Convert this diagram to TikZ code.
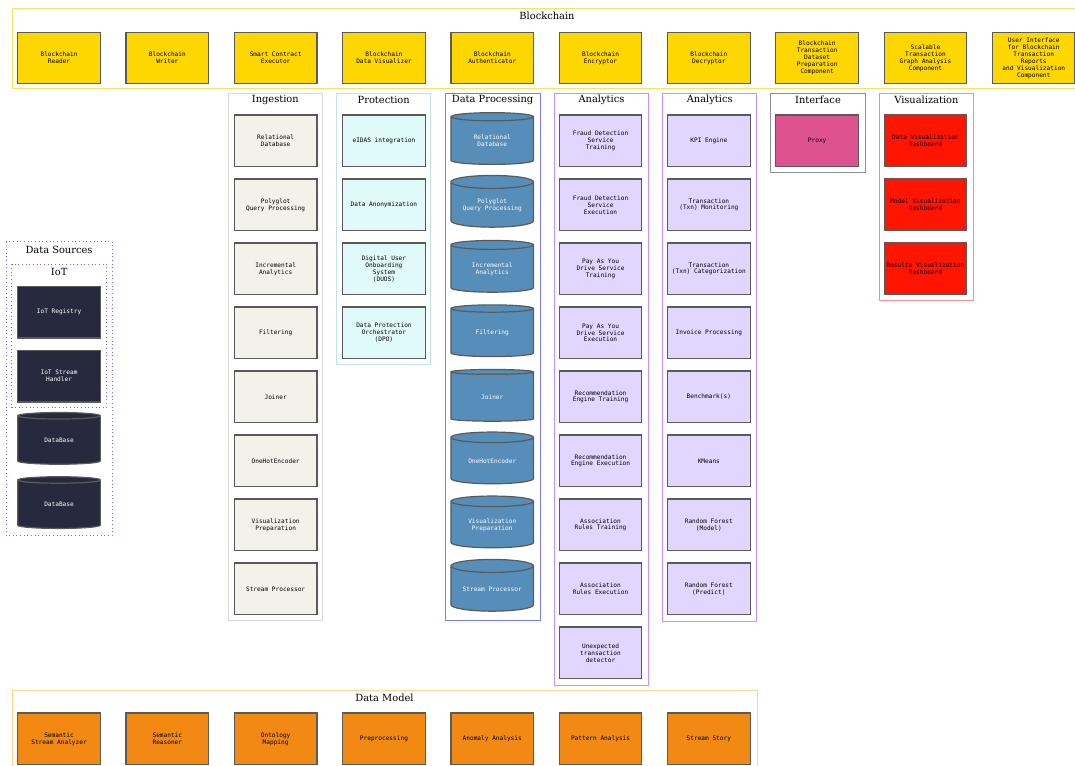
\documentclass[tikz,border=0pt]{standalone}
\usepackage{fontspec}
\setmainfont{DejaVu Serif}
\newfontfamily\boxfont{DejaVu Sans Mono}
\usetikzlibrary{shapes.geometric}
\definecolor{cgold}{HTML}{FFD700}
\definecolor{cing}{HTML}{F2F1EA}
\definecolor{cprot}{HTML}{E0FAFA}
\definecolor{cdp}{HTML}{568EB9}
\definecolor{cana}{HTML}{E0D6FF}
\definecolor{cproxy}{HTML}{DE5290}
\definecolor{cred}{HTML}{FF1500}
\definecolor{cnavy}{HTML}{272A3F}
\definecolor{corange}{HTML}{F28913}
\definecolor{fgold}{HTML}{FFE066}
\definecolor{fing}{HTML}{D9D9D9}
\definecolor{fprot}{HTML}{BFE3EE}
\definecolor{fdp}{HTML}{7B7BFF}
\definecolor{fana}{HTML}{D08BFF}
\definecolor{fint}{HTML}{8C8C8C}
\definecolor{fvis}{HTML}{FF8C8C}
\definecolor{fds}{HTML}{6B6BFF}
\definecolor{fdm}{HTML}{FFD68F}
\definecolor{bord}{HTML}{5A5A5A}
\tikzset{
  comp/.style={rectangle, draw=bord, line width=0.9pt, minimum width=62pt, minimum height=38.8pt,
    inner sep=0pt, align=center, font=\boxfont\fontsize{4.6}{5.2}\selectfont},
  cyl/.style={cylinder, shape border rotate=90, aspect=0.22, draw=bord, line width=0.9pt,
    minimum width=62pt, minimum height=38.8pt, inner sep=0pt, align=center,
    font=\boxfont\fontsize{4.6}{5.2}\selectfont},
  gold/.style={comp, fill=cgold},
  ing/.style={comp, fill=cing},
  prot/.style={comp, fill=cprot},
  dp/.style={cyl, fill=cdp, text=white},
  ana/.style={comp, fill=cana},
  proxy/.style={comp, fill=cproxy},
  redbox/.style={comp, fill=cred},
  navy/.style={comp, fill=cnavy, text=white},
  navycyl/.style={cyl, fill=cnavy, text=white},
  orange/.style={comp, fill=corange},
  frame/.style={line width=0.75pt},
  ftitle/.style={font=\fontsize{7.4}{8}\selectfont, inner sep=0pt}
}
\begin{document}
\begin{tikzpicture}[x=0.75pt,y=-0.75pt]
\useasboundingbox (0,0) rectangle (1075,765);
% frames
\draw[frame, draw=fgold] (12.4,8.6) rectangle (1082,88.5);
\node[ftitle] (tbc) at (547,16.2) {Blockchain};
\draw[frame, draw=fing] (228.3,93.3) rectangle (322.3,620);
\node[ftitle] (ting) at (275.3,100.3) {Ingestion};
\draw[frame, draw=fprot] (336.7,93.3) rectangle (430.7,364);
\node[ftitle] (tprot) at (383.7,100.3) {Protection};
\draw[frame, draw=fdp] (445,93.3) rectangle (540.3,620);
\node[ftitle] (tdp) at (492.6,100.3) {Data Processing};
\draw[frame, draw=fana] (554.5,93.3) rectangle (648.5,685);
\node[ftitle] (ta1) at (601.5,100.3) {Analytics};
\draw[frame, draw=fana] (662.7,93.3) rectangle (756.8,621);
\node[ftitle] (ta2) at (709.7,100.3) {Analytics};
\draw[frame, draw=fint] (770.9,93.3) rectangle (865.1,172.3);
\node[ftitle] (tint) at (818,100.3) {Interface};
\draw[frame, draw=fvis] (879.3,93.3) rectangle (973.5,300.3);
\node[ftitle] (tvis) at (926.4,100.3) {Visualization};
\draw[frame, draw=fds, dotted] (6,241.7) rectangle (112,535.7);
\node[ftitle] (tds) at (59,250) {Data Sources};
\draw[frame, draw=fds, dotted] (11.7,264.3) rectangle (106.7,407.7);
\node[ftitle] (tiot) at (59.2,271.7) {IoT};
\draw[frame, draw=fdm] (12,690.3) rectangle (757,785);
\node[ftitle] (tdm) at (384.5,698) {Data Model};
% Blockchain row
\node[gold] (b0) at (59.05,58) {Blockchain\\Reader};
\node[gold] (b1) at (167.35,58) {Blockchain\\Writer};
\node[gold] (b2) at (275.65,58) {Smart Contract\\Executor};
\node[gold] (b3) at (383.95,58) {Blockchain\\Data Visualizer};
\node[gold] (b4) at (492.25,58) {Blockchain\\Authenticator};
\node[gold] (b5) at (600.55,58) {Blockchain\\Encryptor};
\node[gold] (b6) at (708.85,58) {Blockchain\\Decryptor};
\node[gold] (b7) at (817.15,58) {Blockchain\\Transaction\\Dataset\\Preparation\\Component};
\node[gold] (b8) at (925.45,58) {Scalable\\Transaction\\Graph Analysis\\Component};
\node[gold] (b9) at (1033.75,58) {User Interface\\for Blockchain\\Transaction\\Reports\\and Visualization\\Component};
% Ingestion
\node[ing] (i0) at (275.65,140.85) {Relational\\Database};
\node[ing] (i1) at (275.65,204.85) {Polyglot\\Query Processing};
\node[ing] (i2) at (275.65,268.85) {Incremental\\Analytics};
\node[ing] (i3) at (275.65,332.85) {Filtering};
\node[ing] (i4) at (275.65,396.85) {Joiner};
\node[ing] (i5) at (275.65,460.85) {OneHotEncoder};
\node[ing] (i6) at (275.65,524.85) {Visualization\\Preparation};
\node[ing] (i7) at (275.65,588.85) {Stream Processor};
% Protection
\node[prot] (p0) at (383.95,140.85) {eIDAS integration};
\node[prot] (p1) at (383.95,204.85) {Data Anonymization};
\node[prot] (p2) at (383.95,268.85) {Digital User\\Onboarding\\System\\(DUOS)};
\node[prot] (p3) at (383.95,332.85) {Data Protection\\Orchestrator\\(DPO)};
% Data Processing
\node[dp] (d0) at (492.25,140.85) {Relational\\Database};
\node[dp] (d1) at (492.25,204.85) {Polyglot\\Query Processing};
\node[dp] (d2) at (492.25,268.85) {Incremental\\Analytics};
\node[dp] (d3) at (492.25,332.85) {Filtering};
\node[dp] (d4) at (492.25,396.85) {Joiner};
\node[dp] (d5) at (492.25,460.85) {OneHotEncoder};
\node[dp] (d6) at (492.25,524.85) {Visualization\\Preparation};
\node[dp] (d7) at (492.25,588.85) {Stream Processor};
% Analytics 1
\node[ana] (a0) at (600.55,140.85) {Fraud Detection\\Service\\Training};
\node[ana] (a1) at (600.55,204.85) {Fraud Detection\\Service\\Execution};
\node[ana] (a2) at (600.55,268.85) {Pay As You\\Drive Service\\Training};
\node[ana] (a3) at (600.55,332.85) {Pay As You\\Drive Service\\Execution};
\node[ana] (a4) at (600.55,396.85) {Recommendation\\Engine Training};
\node[ana] (a5) at (600.55,460.85) {Recommendation\\Engine Execution};
\node[ana] (a6) at (600.55,524.85) {Association\\Rules Training};
\node[ana] (a7) at (600.55,588.85) {Association\\Rules Execution};
\node[ana] (a8) at (600.55,652.85) {Unexpected\\transaction\\detector};
% Analytics 2
\node[ana] (k0) at (708.85,140.85) {KPI Engine};
\node[ana] (k1) at (708.85,204.85) {Transaction\\(Txn) Monitoring};
\node[ana] (k2) at (708.85,268.85) {Transaction\\(Txn) Categorization};
\node[ana] (k3) at (708.85,332.85) {Invoice Processing};
\node[ana] (k4) at (708.85,396.85) {Benchmark(s)};
\node[ana] (k5) at (708.85,460.85) {KMeans};
\node[ana] (k6) at (708.85,524.85) {Random Forest\\(Model)};
\node[ana] (k7) at (708.85,588.85) {Random Forest\\(Predict)};
% Interface
\node[proxy] (x0) at (817.15,140.85) {Proxy};
% Visualization
\node[redbox] (v0) at (925.45,140.85) {Data Visualization\\Dashboard};
\node[redbox] (v1) at (925.45,204.85) {Model Visualization\\Dashboard};
\node[redbox] (v2) at (925.45,268.85) {Results Visualization\\Dashboard};
% Data Sources
\node[navy] (s0) at (59.05,312.2) {IoT Registry};
\node[navy] (s1) at (59.05,376.2) {IoT Stream\\Handler};
\node[navycyl] (s2) at (59.05,440.3) {DataBase};
\node[navycyl] (s3) at (59.05,504.5) {DataBase};
% Data Model
\node[orange] (m0) at (59.05,738.9) {Semantic\\Stream Analyzer};
\node[orange] (m1) at (167.35,738.9) {Semantic\\Reasoner};
\node[orange] (m2) at (275.65,738.9) {Ontology\\Mapping};
\node[orange] (m3) at (383.95,738.9) {Preprocessing};
\node[orange] (m4) at (492.25,738.9) {Anomaly Analysis};
\node[orange] (m5) at (600.55,738.9) {Pattern Analysis};
\node[orange] (m6) at (708.85,738.9) {Stream Story};
\end{tikzpicture}
\end{document}
